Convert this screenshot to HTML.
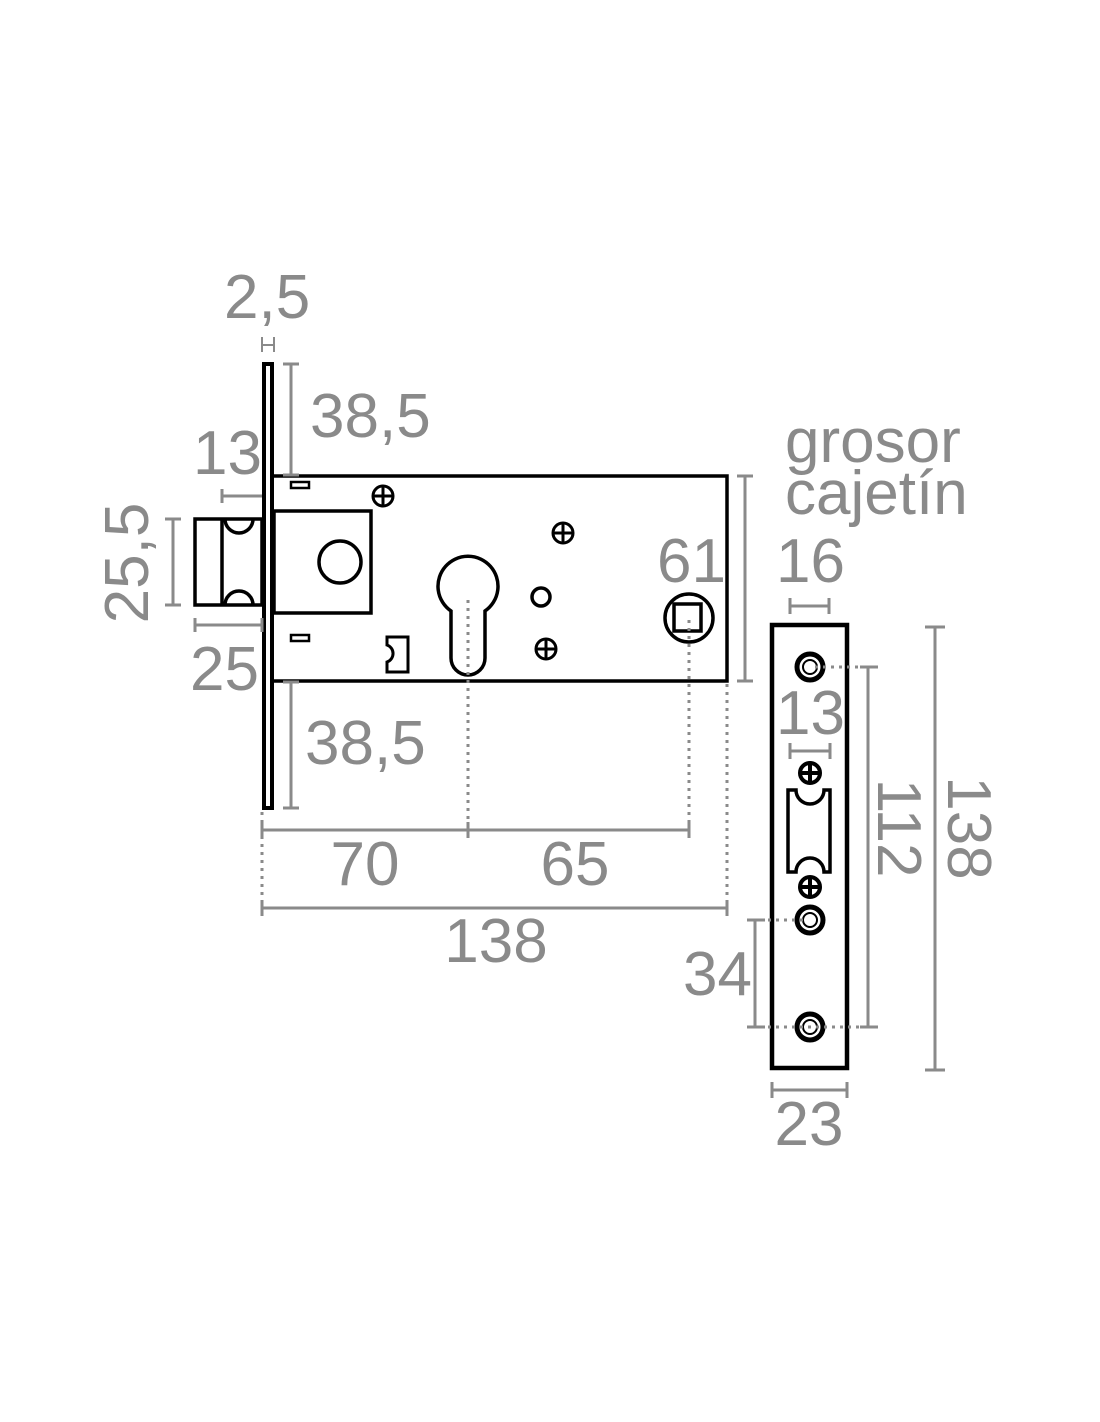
<!DOCTYPE html>
<html><head><meta charset="utf-8"><style>
html,body{margin:0;padding:0;background:#fff;}
svg{display:block;}
text{font-family:"Liberation Sans",sans-serif;fill:#8a8a8a;font-size:62px;}
</style></head><body>
<svg width="1100" height="1422" viewBox="0 0 1100 1422" xmlns="http://www.w3.org/2000/svg">
<g fill="none" stroke="#000" stroke-width="3.5">
<rect x="264" y="364" width="8" height="444" stroke-width="4"/>
<path d="M274 476 H727 V681 H274"/>
<rect x="274" y="511" width="97" height="102"/>
<circle cx="340" cy="562" r="21"/>
<rect x="195" y="519" width="67" height="86"/>
<line x1="222" y1="519" x2="222" y2="605"/>
<path d="M225 519 A14 14 0 0 0 253 519"/>
<path d="M225 605 A14 14 0 0 1 253 605"/>
<rect x="291" y="482" width="18" height="6" stroke-width="2.5"/>
<rect x="291" y="635" width="18" height="6" stroke-width="2.5"/>
<g stroke-width="3">
<circle cx="383" cy="496" r="10"/><path d="M373 496H393M383 486V506"/>
<circle cx="563" cy="533" r="10"/><path d="M553 533H573M563 523V543"/>
<circle cx="546" cy="649" r="10"/><path d="M536 649H556M546 639V659"/>
</g>
<circle cx="541" cy="597" r="9"/>
<path d="M451 611 A30 30 0 1 1 485 611 V658 A17 17 0 0 1 451 658 Z"/>
<path d="M387 637 L408 637 L408 672 L387 672 L387 662 A9 9 0 0 0 387 645 Z" stroke-width="3"/>
<circle cx="689" cy="618" r="24"/>
<rect x="674" y="604" width="27" height="27"/>
<rect x="772" y="625" width="75" height="443" stroke-width="4.5"/>
<g stroke-width="5">
<circle cx="810" cy="667" r="13"/>
<circle cx="810" cy="920" r="13"/>
<circle cx="810" cy="1027" r="13"/>
</g>
<g stroke-width="2">
<circle cx="810" cy="667" r="7"/>
<circle cx="810" cy="920" r="7"/>
<circle cx="810" cy="1027" r="7"/>
</g>
<g stroke-width="4">
<circle cx="810" cy="773" r="10"/><path d="M800 773H820M810 763V783"/>
<circle cx="810" cy="887" r="10"/><path d="M800 887H820M810 877V897"/>
</g>
<path d="M788 790 H796 A14 14 0 0 0 824 790 H830 V872 H824 A14 14 0 0 0 796 872 H788 Z" stroke-width="3.5"/>
</g>
<g stroke="#8a8a8a" stroke-width="3" fill="none">
<path d="M262 337V352M274 337V352M262 345H274" stroke-width="2"/>
<path d="M291 364V475M283 364H299M283 475H299"/>
<path d="M222 496H262M222 489V503"/>
<path d="M173 519V605M165 519H181M165 605H181"/>
<path d="M195 625H262M195 618V632M262 618V632"/>
<path d="M291 682V808M283 682H299M283 808H299"/>
<path d="M262 830H689M262 822V838M468 822V838M689 822V838"/>
<path d="M262 908H727M262 900V916M727 900V916"/>
<path d="M745 476V681M737 476H753M737 681H753"/>
<path d="M790 606H829M790 598V614M829 598V614"/>
<path d="M790 751H830M790 743V759M830 743V759"/>
<path d="M868 667V1027M860 667H878M860 1027H878"/>
<path d="M935 627V1070M925 627H945M925 1070H945"/>
<path d="M755 920V1027M747 920H765M747 1027H765"/>
<path d="M772 1090H847M772 1082V1098M847 1082V1098"/>
<g stroke-dasharray="3 5">
<path d="M468 600V830M689 620V830M262 812V908M727 684V908"/>
<path d="M815 667H866M760 920H805M760 1027H866"/>
</g>
</g>
<text x="224" y="318">2,5</text>
<text x="310" y="437">38,5</text>
<text x="193" y="474">13</text>
<text x="190" y="690">25</text>
<text x="305" y="764">38,5</text>
<text x="365" y="885" text-anchor="middle">70</text>
<text x="575" y="885" text-anchor="middle">65</text>
<text x="496" y="962" text-anchor="middle">138</text>
<text x="657" y="582">61</text>
<text x="785" y="462">grosor</text>
<text x="785" y="514">cajetín</text>
<text x="776" y="582">16</text>
<text x="776" y="734">13</text>
<text x="683" y="995">34</text>
<text x="809" y="1145" text-anchor="middle">23</text>
<text transform="translate(148,563) rotate(-90)" text-anchor="middle">25,5</text>
<text transform="translate(878,828) rotate(90)" text-anchor="middle">112</text>
<text transform="translate(948,828) rotate(90)" text-anchor="middle">138</text>
</svg>
</body></html>
